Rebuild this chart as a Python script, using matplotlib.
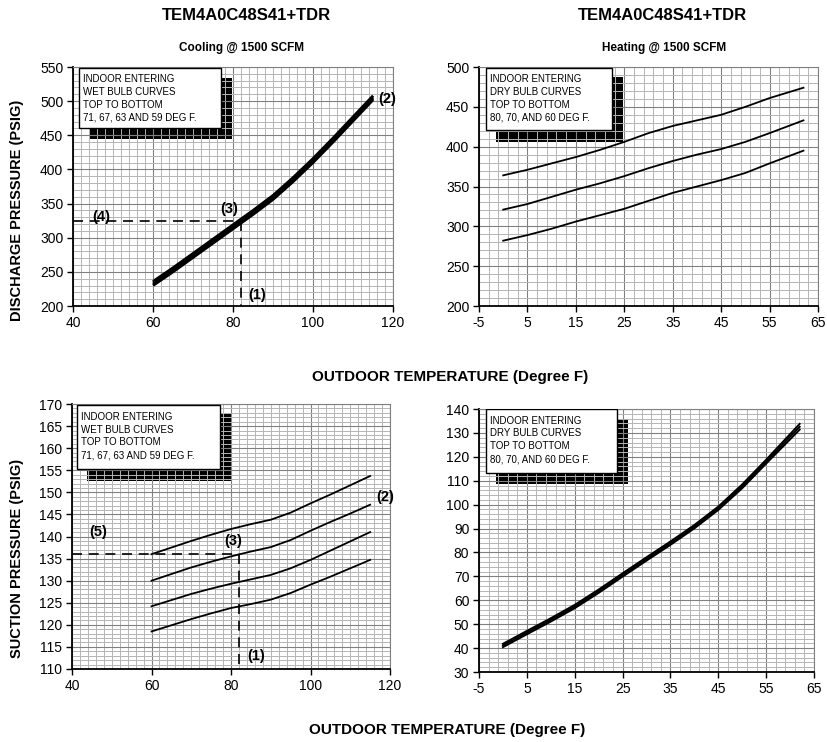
import numpy as np
import matplotlib
matplotlib.use('Agg')
import matplotlib.pyplot as plt
from matplotlib.patches import Rectangle
from matplotlib.ticker import MultipleLocator, FixedLocator

plt.rcParams['font.family'] = ['Liberation Sans', 'DejaVu Sans']
plt.rcParams['axes.unicode_minus'] = False
NARROW = ['Liberation Sans Narrow', 'Liberation Sans', 'DejaVu Sans']

# cooling discharge (indoor wet bulb 71, 67, 63, 59)
cool_x = [60, 65, 70, 75, 80, 85, 90, 95, 100, 105, 110, 115]
dis_71 = [236, 256, 277, 298, 319, 340, 362, 388, 416, 446, 477, 508]
dis_67 = [234, 254, 275, 296, 317, 338, 360, 386, 414, 444, 475, 506]
dis_63 = [232, 252, 273, 294, 315, 336, 358, 384, 412, 442, 473, 504]
dis_59 = [230, 250, 271, 292, 313, 334, 356, 382, 410, 440, 471, 502]

# heating discharge (indoor dry bulb 80, 70, 60)
heat_x = [0, 5, 10, 15, 20, 25, 30, 35, 40, 45, 50, 55, 62]
hdis_80 = [364, 371, 379, 387, 396, 406, 417, 426, 433, 440, 450, 461, 474]
hdis_70 = [321, 328, 337, 346, 354, 363, 373, 382, 390, 397, 406, 417, 433]
hdis_60 = [282, 289, 297, 306, 314, 322, 332, 342, 350, 358, 367, 379, 395]

# cooling suction
suc_71 = [136.0, 137.5, 139.0, 140.4, 141.7, 142.8, 143.8, 145.4, 147.5, 149.5, 151.6, 153.7]
suc_67 = [130.0, 131.5, 133.0, 134.3, 135.5, 136.6, 137.6, 139.2, 141.3, 143.3, 145.2, 147.2]
suc_63 = [124.2, 125.6, 127.0, 128.2, 129.3, 130.3, 131.3, 132.8, 134.7, 136.8, 138.9, 141.0]
suc_59 = [118.5, 119.9, 121.3, 122.6, 123.8, 124.7, 125.7, 127.2, 129.1, 130.9, 132.8, 134.7]

# heating suction
hsuc_80 = [41.8, 47.2, 52.5, 58.1, 64.5, 71.3, 78.0, 84.6, 91.5, 99.2, 108.5, 118.8, 133.8]
hsuc_70 = [41.1, 46.5, 51.8, 57.4, 63.8, 70.6, 77.3, 83.9, 90.8, 98.5, 107.7, 118.0, 132.6]
hsuc_60 = [40.4, 45.8, 51.1, 56.7, 63.1, 69.9, 76.6, 83.2, 90.1, 97.8, 106.9, 117.2, 131.4]

heat_ticks = [-5, 5, 15, 25, 35, 45, 55, 65]

model = 'TEM4A0C48S41+TDR'
cool_note = 'INDOOR ENTERING\nWET BULB CURVES\nTOP TO BOTTOM\n71, 67, 63 AND 59 DEG F.'
heat_note = 'INDOOR ENTERING\nDRY BULB CURVES\nTOP TO BOTTOM\n80, 70, AND 60 DEG F.'

fig = plt.figure(figsize=(8.27, 7.42), dpi=100)

def setup(ax, xlim, ylim, xmaj, xmin, ymaj, ymin):
    ax.set_xlim(xlim)
    ax.set_ylim(ylim)
    if isinstance(xmaj, list):
        ax.xaxis.set_major_locator(FixedLocator(xmaj))
        ax.xaxis.set_minor_locator(FixedLocator(np.arange(xmaj[0], xmaj[-1] + 0.1, xmin)))
    else:
        ax.xaxis.set_major_locator(MultipleLocator(xmaj))
        ax.xaxis.set_minor_locator(MultipleLocator(xmin))
    ax.yaxis.set_major_locator(MultipleLocator(ymaj))
    ax.yaxis.set_minor_locator(MultipleLocator(ymin))
    ax.grid(which='minor', color='#b5b5b5', lw=0.7)
    ax.grid(which='major', color='#808080', lw=0.8)
    ax.tick_params(which='minor', length=0)
    ax.tick_params(which='major', length=4, width=1, labelsize=10, pad=3)
    for s in ['top', 'right']:
        ax.spines[s].set_color('#808080')
        ax.spines[s].set_linewidth(0.8)
    for s in ['left', 'bottom']:
        ax.spines[s].set_linewidth(1.3)

def note(ax, text, box, shadow):
    sx0, sy0, sx1, sy1 = shadow
    ax.add_patch(Rectangle((sx0, sy0), sx1 - sx0, sy1 - sy0, transform=ax.transAxes,
                           facecolor='black', edgecolor='none', zorder=1))
    bx0, by0, bx1, by1 = box
    ax.add_patch(Rectangle((bx0, by0), bx1 - bx0, by1 - by0, transform=ax.transAxes,
                           facecolor='white', edgecolor='black', lw=1, zorder=3))
    ax.text(bx0 + 0.012, by1 - 0.025, text, transform=ax.transAxes, fontsize=7,
            va='top', ha='left', linespacing=1.35, zorder=4)

# top left - cooling discharge
ax1 = fig.add_axes([0.0883, 0.5876, 0.387, 0.3221])
setup(ax1, (40, 120), (200, 550), 20, 2, 50, 10)
for y in [dis_71, dis_67, dis_63, dis_59]:
    ax1.plot(cool_x, y, color='black', lw=2.0, zorder=2, solid_capstyle='butt')
ax1.plot([40, 82], [325, 325], color='black', lw=1.2, dashes=(6, 4), zorder=2)
ax1.plot([82, 82], [325, 200], color='black', lw=1.2, dashes=(6, 4), zorder=2)
note(ax1, cool_note, (0.019, 0.745, 0.4625, 0.996), (0.05, 0.699, 0.497, 0.954))
ax1.text(118.5, 503, '(2)', fontsize=10.5, fontweight='bold', ha='center', va='center')
ax1.text(47, 330, '(4)', fontsize=10.5, fontweight='bold', ha='center', va='center')
ax1.text(79, 342, '(3)', fontsize=10.5, fontweight='bold', ha='center', va='center')
ax1.text(86, 216, '(1)', fontsize=10.5, fontweight='bold', ha='center', va='center')

# top right - heating discharge
ax2 = fig.add_axes([0.5792, 0.5876, 0.4099, 0.3221])
setup(ax2, (-5, 65), (200, 500), heat_ticks, 2, 50, 10)
for y in [hdis_80, hdis_70, hdis_60]:
    ax2.plot(heat_x, y, color='black', lw=1.3, zorder=2)
note(ax2, heat_note, (0.021, 0.736, 0.392, 0.996), (0.05, 0.686, 0.425, 0.958))

# bottom left - cooling suction
ax3 = fig.add_axes([0.0871, 0.0984, 0.3845, 0.3571])
setup(ax3, (40, 120), (110, 170), 20, 2, 5, 1)
for y in [suc_71, suc_67, suc_63, suc_59]:
    ax3.plot(cool_x, y, color='black', lw=1.3, zorder=2)
ax3.plot([40, 82], [136, 136], color='black', lw=1.2, dashes=(6, 4), zorder=2)
ax3.plot([82, 82], [136, 110], color='black', lw=1.2, dashes=(6, 4), zorder=2)
note(ax3, cool_note, (0.016, 0.755, 0.465, 0.996), (0.047, 0.709, 0.5, 0.966))
ax3.text(118.7, 149, '(2)', fontsize=10.5, fontweight='bold', ha='center', va='center')
ax3.text(46.5, 141, '(5)', fontsize=10.5, fontweight='bold', ha='center', va='center')
ax3.text(80.5, 139, '(3)', fontsize=10.5, fontweight='bold', ha='center', va='center')
ax3.text(86.3, 113, '(1)', fontsize=10.5, fontweight='bold', ha='center', va='center')

# bottom right - heating suction
ax4 = fig.add_axes([0.5792, 0.0943, 0.4051, 0.3544])
setup(ax4, (-5, 65), (30, 140), heat_ticks, 2, 10, 2)
for y in [hsuc_80, hsuc_70, hsuc_60]:
    ax4.plot(heat_x, y, color='black', lw=1.4, zorder=2)
note(ax4, heat_note, (0.021, 0.757, 0.412, 1.0), (0.05, 0.715, 0.445, 0.962))

# titles and axis labels
fig.text(246.5 / 827, 1 - 15 / 742, model, fontsize=12, fontweight='bold',
         family=NARROW, ha='center', va='center')
fig.text(662.5 / 827, 1 - 15 / 742, model, fontsize=12, fontweight='bold',
         family=NARROW, ha='center', va='center')
fig.text(242 / 827, 1 - 48 / 742, 'Cooling @ 1500 SCFM', fontsize=8.5, fontweight='bold',
         family=NARROW, ha='center', va='center')
fig.text(664.5 / 827, 1 - 48 / 742, 'Heating @ 1500 SCFM', fontsize=8.5, fontweight='bold',
         family=NARROW, ha='center', va='center')
fig.text(17 / 827, 1 - 210 / 742, 'DISCHARGE PRESSURE (PSIG)', fontsize=10.5, fontweight='bold',
         family=NARROW, rotation=90, ha='center', va='center')
fig.text(17 / 827, 1 - 558 / 742, 'SUCTION PRESSURE (PSIG)', fontsize=10.5, fontweight='bold',
         family=NARROW, rotation=90, ha='center', va='center')
fig.text(450 / 827, 1 - 377 / 742, 'OUTDOOR TEMPERATURE (Degree F)', fontsize=11, fontweight='bold',
         family=NARROW, ha='center', va='center')
fig.text(447 / 827, 1 - 730 / 742, 'OUTDOOR TEMPERATURE (Degree F)', fontsize=11, fontweight='bold',
         family=NARROW, ha='center', va='center')

fig.savefig('out.png', dpi=100, facecolor='white')
